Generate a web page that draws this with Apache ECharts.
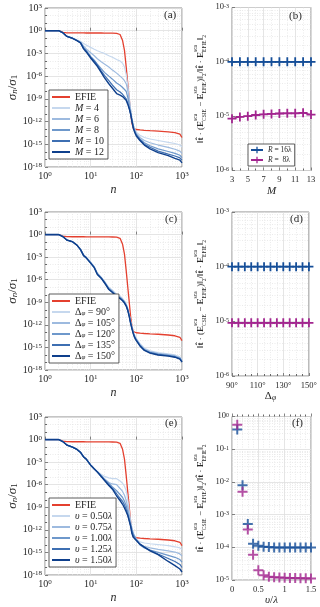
<!DOCTYPE html>
<html>
<head>
<meta charset="utf-8">
<script src="https://cdn.jsdelivr.net/npm/echarts@6.0.0/dist/echarts.min.js"></script>
<style>
  html, body { margin: 0; padding: 0; background: #fff; }
  #chart { width: 320px; height: 607px; }
</style>
</head>
<body>
<div id="chart"></div>
<script>
var FONT = '"Liberation Serif", "DejaVu Serif", serif'
var INK = '#262626'

// n values shared by all singular-value curves
var nGrid = [1, 2, 2.5, 3, 4, 5, 6, 7, 8, 10, 12, 14, 17, 20, 25, 30, 37, 44, 50, 55, 60, 65, 70, 75, 80, 86, 92, 100, 120, 150, 200, 300, 500, 700, 900, 1000]

// log10(sigma_n / sigma_1), one entry per nGrid value
var efieLog = [0, 0, -0.22, -0.28, -0.29, -0.29, -0.29, -0.29, -0.3, -0.3, -0.3, -0.3, -0.3, -0.31, -0.31, -0.32, -0.34, -0.5, -1.3, -2.6, -4.8, -7.0, -9.0, -10.9, -12.2, -12.9, -13.0, -13.05, -13.1, -13.15, -13.2, -13.25, -13.35, -13.45, -13.65, -14.1]

// panel (a): M = 4, 6, 8, 10, 12
var aM4 = [0, 0, -0.3, -0.7, -0.95, -1.2, -1.4, -1.7, -1.9, -2.2, -2.45, -2.65, -2.85, -3.0, -3.3, -3.5, -3.8, -4.0, -4.3, -4.8, -5.8, -7.2, -8.9, -10.4, -11.6, -12.5, -13.0, -13.4, -13.8, -14.1, -14.3, -14.5, -14.75, -14.9, -15.1, -15.35]
var aM6 = [0, 0, -0.3, -0.72, -1.0, -1.25, -1.5, -2.0, -2.4, -2.9, -3.3, -3.7, -4.1, -4.4, -4.8, -5.2, -5.6, -6.0, -6.3, -6.6, -7.0, -7.9, -9.2, -10.5, -11.6, -12.5, -13.0, -13.6, -14.1, -14.5, -14.8, -15.1, -15.4, -15.65, -15.9, -16.2]
var aM8 = [0, 0, -0.3, -0.75, -1.0, -1.3, -1.6, -2.2, -2.6, -3.4, -3.9, -4.4, -5.0, -5.5, -6.0, -6.4, -6.9, -7.2, -7.5, -7.7, -8.0, -8.8, -9.9, -10.9, -11.8, -12.7, -13.2, -13.7, -14.3, -14.8, -15.2, -15.6, -15.95, -16.2, -16.45, -16.75]
var aM10 = [0, 0, -0.3, -0.75, -1.0, -1.3, -1.6, -2.3, -2.7, -3.5, -4.0, -4.5, -5.3, -5.9, -6.6, -7.2, -7.8, -8.1, -8.4, -8.6, -9.0, -9.6, -10.3, -11.0, -11.9, -12.8, -13.3, -13.8, -14.4, -15.0, -15.4, -15.9, -16.3, -16.55, -16.8, -17.1]
var aM12 = [0, 0, -0.3, -0.75, -1.0, -1.3, -1.6, -2.4, -2.8, -3.6, -4.2, -4.7, -5.5, -6.2, -7.0, -7.6, -8.3, -8.5, -8.7, -8.8, -9.2, -9.7, -10.3, -11.0, -11.9, -12.9, -13.4, -13.9, -14.5, -15.1, -15.6, -16.1, -16.5, -16.85, -17.1, -17.45]

// panel (c): delta phi = 90..150 deg
var cP90 = [0, 0, -0.3, -0.72, -0.95, -1.4, -1.95, -2.7, -3.0, -3.65, -4.25, -5.1, -5.65, -6.2, -7.0, -7.4, -7.95, -8.2, -8.5, -8.8, -9.2, -9.8, -10.6, -11.5, -12.2, -12.9, -13.4, -13.8, -14.5, -15.1, -15.45, -15.7, -15.85, -16.0, -16.25, -16.65]
var cP105 = [0, 0, -0.3, -0.72, -0.95, -1.4, -1.95, -2.7, -3.0, -3.7, -4.3, -5.15, -5.7, -6.25, -7.1, -7.5, -8.05, -8.3, -8.6, -8.9, -9.3, -9.9, -10.7, -11.6, -12.3, -13.0, -13.5, -13.9, -14.6, -15.2, -15.55, -15.8, -15.95, -16.1, -16.35, -16.75]
var cP120 = [0, 0, -0.3, -0.72, -0.95, -1.4, -2.0, -2.75, -3.05, -3.75, -4.35, -5.2, -5.75, -6.3, -7.2, -7.6, -8.15, -8.4, -8.7, -9.0, -9.4, -10.0, -10.8, -11.7, -12.4, -13.1, -13.6, -14.0, -14.7, -15.3, -15.65, -15.9, -16.05, -16.2, -16.45, -16.85]
var cP135 = [0, 0, -0.3, -0.72, -0.95, -1.4, -2.0, -2.8, -3.1, -3.8, -4.4, -5.25, -5.8, -6.35, -7.25, -7.65, -8.2, -8.45, -8.75, -9.05, -9.45, -10.05, -10.85, -11.75, -12.45, -13.15, -13.65, -14.05, -14.75, -15.35, -15.7, -15.95, -16.1, -16.25, -16.5, -16.9]
var cP150 = [0, 0, -0.3, -0.72, -0.95, -1.4, -2.0, -2.8, -3.1, -3.8, -4.4, -5.3, -5.8, -6.4, -7.3, -7.7, -8.25, -8.5, -8.8, -9.1, -9.5, -10.1, -10.9, -11.8, -12.5, -13.2, -13.7, -14.1, -14.8, -15.4, -15.75, -16.0, -16.15, -16.3, -16.55, -16.95]

// panel (e): upsilon = 0.50..1.50 lambda
var eV050 = [0, 0, -0.3, -0.72, -1.0, -1.3, -1.7, -2.3, -2.6, -3.3, -3.8, -4.2, -4.6, -4.9, -5.1, -5.2, -5.2, -5.5, -5.8, -6.2, -6.8, -8.0, -9.5, -10.8, -11.8, -12.4, -12.8, -13.2, -13.6, -13.75, -13.85, -13.95, -14.1, -14.25, -14.4, -14.6]
var eV075 = [0, 0, -0.3, -0.72, -1.0, -1.3, -1.7, -2.3, -2.6, -3.4, -3.9, -4.3, -4.8, -5.2, -5.7, -5.9, -6.0, -6.5, -6.9, -7.4, -8.1, -9.0, -10.0, -11.0, -11.8, -12.5, -12.9, -13.3, -13.9, -14.2, -14.4, -14.6, -14.8, -14.95, -15.2, -15.5]
var eV100 = [0, 0, -0.3, -0.72, -1.0, -1.3, -1.7, -2.3, -2.6, -3.4, -3.9, -4.3, -4.8, -5.3, -5.8, -6.3, -6.8, -7.3, -7.7, -8.2, -8.8, -9.6, -10.5, -11.3, -12.0, -12.6, -12.9, -13.3, -14.0, -14.4, -14.7, -15.0, -15.4, -15.65, -15.95, -16.3]
var eV125 = [0, 0, -0.3, -0.72, -1.0, -1.3, -1.7, -2.3, -2.6, -3.4, -3.9, -4.3, -4.9, -5.4, -6.0, -6.5, -7.2, -7.8, -8.2, -8.7, -9.3, -10.0, -10.8, -11.5, -12.2, -12.8, -13.1, -13.35, -13.9, -14.3, -14.7, -15.2, -15.8, -16.2, -16.6, -17.0]
var eV150 = [0, 0, -0.3, -0.72, -1.0, -1.3, -1.7, -2.3, -2.6, -3.4, -3.9, -4.3, -4.9, -5.4, -6.1, -6.6, -7.5, -8.1, -8.6, -9.1, -9.6, -10.1, -10.8, -11.5, -12.5, -13.0, -13.2, -13.4, -13.9, -14.3, -14.8, -15.3, -16.2, -16.75, -17.2, -17.6]

// panel (b): error vs M
var bM = [3, 4, 5, 6, 7, 8, 9, 10, 11, 12, 13]
var bR16 = [1.0e-4, 1.0e-4, 1.0e-4, 1.0e-4, 1.0e-4, 1.0e-4, 1.0e-4, 1.0e-4, 1.0e-4, 1.0e-4, 1.0e-4]
var bR8 = [9.0e-6, 9.7e-6, 1.0e-5, 1.05e-5, 1.08e-5, 1.1e-5, 1.12e-5, 1.13e-5, 1.13e-5, 1.15e-5, 1.07e-5]

// panel (d): error vs delta phi
var dPhi = [90, 95, 100, 105, 110, 115, 120, 125, 130, 135, 140, 145, 150]
var dR16 = [1.0e-4, 1.0e-4, 1.0e-4, 1.0e-4, 1.0e-4, 1.0e-4, 1.0e-4, 1.0e-4, 1.0e-4, 1.0e-4, 1.0e-4, 1.0e-4, 1.0e-4]
var dR8 = [9.4e-6, 9.4e-6, 9.4e-6, 9.4e-6, 9.4e-6, 9.4e-6, 9.4e-6, 9.4e-6, 9.4e-6, 9.4e-6, 9.4e-6, 9.4e-6, 9.4e-6]

// panel (f): error vs upsilon/lambda
var fNu = [0.1, 0.2, 0.3, 0.4, 0.5, 0.6, 0.7, 0.8, 0.9, 1.0, 1.1, 1.2, 1.3, 1.4, 1.5]
var fR16 = [0.4, 7.9e-3, 5.2e-4, 1.3e-4, 1.12e-4, 1.05e-4, 1.02e-4, 1.0e-4, 1.0e-4, 1.0e-4, 1.0e-4, 1.0e-4, 1.0e-4, 1.0e-4, 1.0e-4]
var fR8 = [0.56, 5.0e-3, 3.5e-4, 6.0e-5, 2.0e-5, 1.4e-5, 1.27e-5, 1.22e-5, 1.2e-5, 1.18e-5, 1.16e-5, 1.15e-5, 1.14e-5, 1.13e-5, 1.12e-5]

var RED = '#e4402f'
var BLUES = ['#c6d8ee', '#9dbadf', '#6e98cb', '#3e6fb2', '#0e3f8c']
var NAVY = '#154e98'
var MAG = '#a2258f'
var PLUS = 'path://M4,0L6,0L6,4L10,4L10,6L6,6L6,10L4,10L4,6L0,6L0,4L4,4Z'

var grids = [
  {left: 45, top: 8, width: 137, height: 159},
  {left: 232, top: 7.5, width: 79, height: 163},
  {left: 45, top: 212, width: 137, height: 158},
  {left: 232, top: 212, width: 79, height: 164},
  {left: 45, top: 417, width: 137, height: 158},
  {left: 232, top: 416.5, width: 79, height: 164}
].map(function (g) {
  return Object.assign({show: true, borderColor: '#8a8a8a', borderWidth: 1, backgroundColor: '#fff'}, g)
})

function expRich(size, esize, pad) {
  return {
    b: {fontFamily: FONT, fontSize: size, lineHeight: size, color: INK, verticalAlign: 'bottom'},
    e: {fontFamily: FONT, fontSize: esize, lineHeight: esize + 1, padding: [0, 0, pad, 0], color: INK, verticalAlign: 'top'}
  }
}
function logFmt(v) { return '{b|10}{e|' + v + '}' }

var major = {show: true, lineStyle: {color: '#dedede', width: 0.8}}
var minor = {show: true, lineStyle: {color: '#e4e4e4', width: 0.7, type: [1, 1.5]}}
var tick = {inside: true, length: 3, lineStyle: {color: '#666', width: 0.8}}

var nameRich = {
  i: {fontFamily: FONT, fontSize: 13, fontStyle: 'italic', color: INK, lineHeight: 13, verticalAlign: 'top'},
  r: {fontFamily: FONT, fontSize: 13, color: INK, lineHeight: 13, verticalAlign: 'top'},
  s: {fontFamily: FONT, fontSize: 9, fontStyle: 'italic', color: INK, lineHeight: 9, padding: [5, 0, 0, 0], verticalAlign: 'bottom'},
  s1: {fontFamily: FONT, fontSize: 9, color: INK, lineHeight: 9, padding: [5, 0, 0, 0], verticalAlign: 'bottom'}
}
var errRich = {
  r: {fontFamily: FONT, fontSize: 9, color: INK, lineHeight: 15, align: 'left'},
  b: {fontFamily: FONT, fontSize: 9, fontWeight: 'bold', color: INK, lineHeight: 15, align: 'left'},
  sup: {fontFamily: FONT, fontSize: 5.5, color: INK, lineHeight: 6, width: 0, align: 'left', verticalAlign: 'top'},
  sub: {fontFamily: FONT, fontSize: 5.5, color: INK, lineHeight: 6, align: 'left', verticalAlign: 'bottom'}
}
var errName = '{r|‖}{b|t̂}{r| · (}{b|E}{sup|sca}{sub|CSIE}{r| − }{b|E}{sup|sca}{sub|EFIE}{r|)‖}{sub|2}{r|/‖}{b|t̂}{r| · }{b|E}{sup|sca}{sub|EFIE}{r|‖}{sub|2}'

function svX(g) {
  return {
    gridIndex: g, type: 'value', min: 0, max: 3, interval: 1,
    axisLine: {show: false}, axisTick: tick, splitLine: major,
    axisLabel: {formatter: logFmt, rich: expRich(10, 7, 4), margin: 4},
    name: '{i|n}', nameLocation: 'middle', nameGap: 17,
    nameTextStyle: {rich: {i: {fontFamily: FONT, fontSize: 12, fontStyle: 'italic', color: INK}}}
  }
}
function svY(g) {
  return {
    gridIndex: g, type: 'value', min: -18, max: 3, interval: 3,
    axisLine: {show: false}, axisTick: tick, splitLine: major,
    minorTick: {show: true, splitNumber: 3, length: 2, lineStyle: {color: '#666'}}, minorSplitLine: minor,
    axisLabel: {formatter: logFmt, rich: expRich(10, 7, 4), margin: 3},
    name: '{i|σ}{s|n}{r|/}{i|σ}{s1|1}', nameLocation: 'middle', nameRotate: 90, nameGap: 24,
    nameTextStyle: {rich: nameRich}
  }
}
function errY(g, lo, hi) {
  return {
    gridIndex: g, type: 'value', min: lo, max: hi, interval: 1,
    axisLine: {show: false}, axisTick: tick, splitLine: major,
    axisLabel: {formatter: logFmt, rich: expRich(8.5, 6, 3.5), margin: 3},
    name: errName, nameLocation: 'middle', nameRotate: 90, nameGap: 24,
    nameTextStyle: {rich: errRich}
  }
}
function errX(g, min, max, interval, split, fmt, name, rich) {
  return {
    gridIndex: g, type: 'value', min: min, max: max, interval: interval,
    axisLine: {show: false}, axisTick: tick, splitLine: major,
    minorTick: {show: true, splitNumber: split, length: 2, lineStyle: {color: '#666'}}, minorSplitLine: minor,
    axisLabel: {formatter: fmt, fontFamily: FONT, fontSize: 8.5, color: INK, margin: 5},
    name: name, nameLocation: 'middle', nameGap: 13,
    nameTextStyle: {rich: rich}
  }
}

var xRich = {
  i: {fontFamily: FONT, fontSize: 11, fontStyle: 'italic', color: INK},
  r: {fontFamily: FONT, fontSize: 11, color: INK},
  s: {fontFamily: FONT, fontSize: 7.5, fontStyle: 'italic', color: INK, padding: [4, 0, 0, 0]}
}

function curve(name, g, logs, color, w) {
  return {
    name: name, type: 'line', xAxisIndex: g, yAxisIndex: g, symbol: 'none',
    data: nGrid.map(function (n, i) { return [Math.log10(n), logs[i]] }),
    lineStyle: {color: color, width: w || 1.2}, itemStyle: {color: color}
  }
}
function marks(name, g, xs, ys, color, size, kind) {
  return {
    name: name, type: kind, xAxisIndex: g, yAxisIndex: g,
    data: xs.map(function (x, i) { return [x, Math.log10(ys[i])] }),
    symbol: PLUS, symbolSize: size, showSymbol: true,
    lineStyle: {color: color, width: 1.4}, itemStyle: {color: color}
  }
}
// faint dotted lines at 2..9 inside each decade
function minorLines(g, xDec, yDec) {
  var pts = []
  xDec.forEach(function (d) { for (var k = 2; k < 10; k++) pts.push({xAxis: d + Math.log10(k)}) })
  yDec.forEach(function (d) { for (var k = 2; k < 10; k++) pts.push({yAxis: d + Math.log10(k)}) })
  return {
    type: 'line', xAxisIndex: g, yAxisIndex: g, data: [], silent: true,
    markLine: {silent: true, symbol: 'none', z: 1, label: {show: false},
      lineStyle: {color: '#e2e2e2', width: 0.7, type: [1, 1.5]}, data: pts}
  }
}

var series = [
  minorLines(0, [0, 1, 2], []),
  minorLines(2, [0, 1, 2], []),
  minorLines(4, [0, 1, 2], []),
  minorLines(1, [], [-6, -5, -4]),
  minorLines(3, [], [-6, -5, -4]),
  minorLines(5, [], [-5, -4, -3, -2, -1]),
  curve('a0', 0, efieLog, RED, 1.3),
  curve('a1', 0, aM4, BLUES[0]), curve('a2', 0, aM6, BLUES[1]), curve('a3', 0, aM8, BLUES[2]),
  curve('a4', 0, aM10, BLUES[3]), curve('a5', 0, aM12, BLUES[4], 1.4),
  curve('c0', 2, efieLog, RED, 1.3),
  curve('c1', 2, cP90, BLUES[0]), curve('c2', 2, cP105, BLUES[1]), curve('c3', 2, cP120, BLUES[2]),
  curve('c4', 2, cP135, BLUES[3]), curve('c5', 2, cP150, BLUES[4], 1.4),
  curve('e0', 4, efieLog, RED, 1.3),
  curve('e1', 4, eV050, BLUES[0]), curve('e2', 4, eV075, BLUES[1]), curve('e3', 4, eV100, BLUES[2]),
  curve('e4', 4, eV125, BLUES[3]), curve('e5', 4, eV150, BLUES[4], 1.4),
  marks('b0', 1, bM, bR16, NAVY, 9, 'line'), marks('b1', 1, bM, bR8, MAG, 9, 'line'),
  marks('d0', 3, dPhi, dR16, NAVY, 9, 'line'), marks('d1', 3, dPhi, dR8, MAG, 9, 'line'),
  marks('f0', 5, fNu, fR16, NAVY, 10, 'scatter'), marks('f1', 5, fNu, fR8, MAG, 10, 'scatter')
]

var legendText = {
  a0: '{r|EFIE}', a1: '{i|M}{r| = 4}', a2: '{i|M}{r| = 6}', a3: '{i|M}{r| = 8}', a4: '{i|M}{r| = 10}', a5: '{i|M}{r| = 12}',
  c0: '{r|EFIE}', c1: '{r|Δ}{s|φ}{r| = 90°}', c2: '{r|Δ}{s|φ}{r| = 105°}', c3: '{r|Δ}{s|φ}{r| = 120°}', c4: '{r|Δ}{s|φ}{r| = 135°}', c5: '{r|Δ}{s|φ}{r| = 150°}',
  e0: '{r|EFIE}', e1: '{i|υ}{r| = 0.50}{i|λ}', e2: '{i|υ}{r| = 0.75}{i|λ}', e3: '{i|υ}{r| = 1.00}{i|λ}', e4: '{i|υ}{r| = 1.25}{i|λ}', e5: '{i|υ}{r| = 1.50}{i|λ}',
  b0: '{i|R}{r| = 16λ}', b1: '{i|R}{r| =  8λ}'
}
var legRich = {
  r: {fontFamily: FONT, fontSize: 10, color: INK, lineHeight: 10},
  i: {fontFamily: FONT, fontSize: 10, fontStyle: 'italic', color: INK, lineHeight: 10},
  s: {fontFamily: FONT, fontSize: 7, fontStyle: 'italic', color: INK, lineHeight: 7, padding: [3, 0, 0, 0]}
}
var legSmall = {
  r: {fontFamily: FONT, fontSize: 7.5, color: INK, lineHeight: 8},
  i: {fontFamily: FONT, fontSize: 7.5, fontStyle: 'italic', color: INK, lineHeight: 8}
}
function svLegend(p, top) {
  return {
    orient: 'vertical', left: 49, top: top, data: [p + '0', p + '1', p + '2', p + '3', p + '4', p + '5'],
    icon: 'rect', itemWidth: 18, itemHeight: 2, itemGap: 1, padding: [2, 4, 2, 3],
    borderColor: '#333', borderWidth: 0.8, backgroundColor: '#fff', selectedMode: false,
    formatter: function (name) { return legendText[name] },
    textStyle: {fontFamily: FONT, fontSize: 10, color: INK, rich: legRich}
  }
}

var titles = [['(a)', 164, 10], ['(b)', 289, 11], ['(c)', 165, 214], ['(d)', 290, 214], ['(e)', 165, 418], ['(f)', 292, 418]]
  .map(function (t) {
    return {text: t[0], left: t[1], top: t[2], padding: 0,
      textStyle: {fontFamily: FONT, fontSize: 11, fontWeight: 'normal', color: INK}}
  })

var option = {
  animation: false,
  backgroundColor: '#fff',
  title: titles,
  grid: grids,
  xAxis: [
    svX(0),
    errX(1, 3, 13, 2, 2, function (v) { return v }, '{i|M}', xRich),
    svX(2),
    errX(3, 90, 150, 20, 4, function (v) { return v + '°' }, '{r|Δ}{s|φ}', xRich),
    svX(4),
    errX(5, 0, 1.5, 0.5, 5, function (v) { return v }, '{i|υ}{r|/}{i|λ}', xRich)
  ],
  yAxis: [svY(0), errY(1, -6, -3), svY(2), errY(3, -6, -3), svY(4), errY(5, -5, 0)],
  legend: [
    svLegend('a', 90),
    svLegend('c', 294),
    svLegend('e', 498),
    {
      orient: 'vertical', left: 248, top: 144, data: ['b0', 'b1'],
      itemWidth: 12, itemHeight: 8, itemGap: 2, padding: [2, 3, 2, 2],
      borderColor: '#333', borderWidth: 0.8, backgroundColor: '#fff', selectedMode: false,
      formatter: function (name) { return legendText[name] },
      textStyle: {fontFamily: FONT, fontSize: 7.5, color: INK, rich: legSmall}
    }
  ],
  series: series
}

var chart = echarts.init(document.getElementById('chart'))
chart.setOption(option)
</script>
</body>
</html>
